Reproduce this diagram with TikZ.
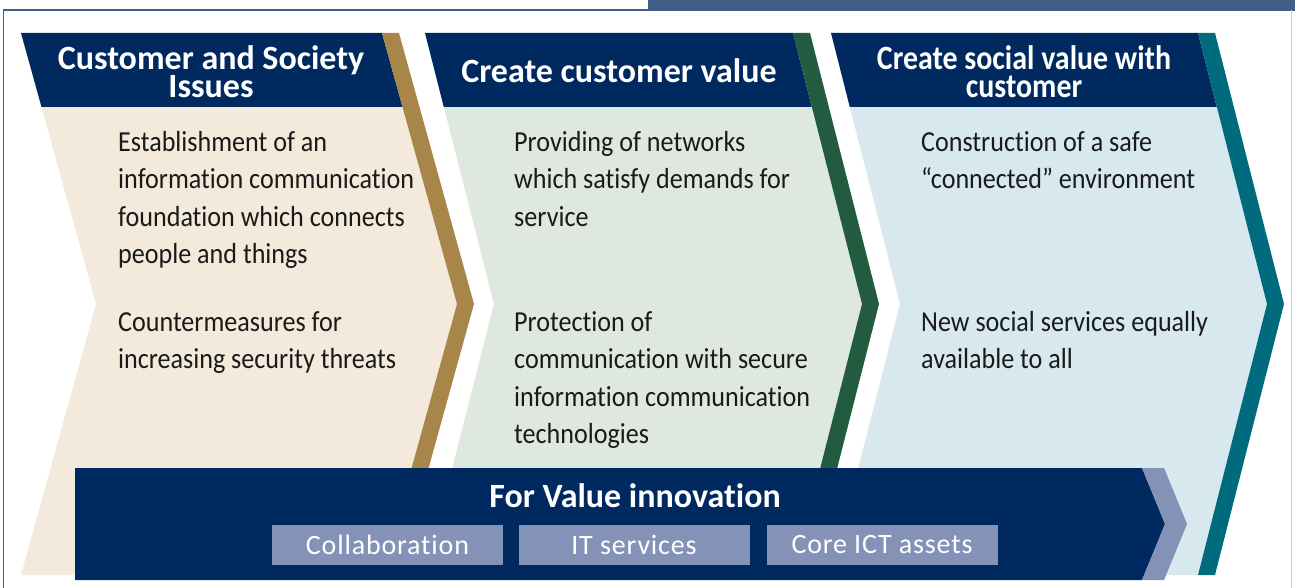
\documentclass[tikz,border=0pt]{standalone}
\usepackage{fontspec}
\setmainfont{Carlito}[FakeStretch=0.9, Ligatures=NoCommon]
\newfontfamily\headfont{Carlito}[Ligatures=NoCommon]
\newfontfamily\narrowhead{Carlito}[FakeStretch=0.88, Ligatures=NoCommon]
\newfontfamily\boxfont{Carlito}[LetterSpace=3, Ligatures=NoCommon]
\definecolor{navy}{HTML}{00295F}
\definecolor{bronze}{HTML}{A8864A}
\definecolor{beige}{HTML}{F3EADC}
\definecolor{pine}{HTML}{225B40}
\definecolor{mint}{HTML}{DEE8DE}
\definecolor{teal}{HTML}{006B7D}
\definecolor{ice}{HTML}{D8E8EF}
\definecolor{lavender}{HTML}{8592B8}
\definecolor{steel}{HTML}{3F5F87}
\definecolor{ink}{HTML}{1A1A1A}
\tikzset{
  headtext/.style={text=white, align=center, inner sep=0pt, font=\headfont\bfseries\fontsize{34}{28}\selectfont},
  bodytext/.style={anchor=north west, inner sep=0pt, align=left, text=ink, font=\fontsize{29}{37.5}\selectfont},
  subbox/.style={fill=lavender, text=white, minimum width=231pt, minimum height=40pt, inner sep=0pt, font=\boxfont\fontsize{28}{28}\selectfont}
}
\begin{document}
\begin{tikzpicture}[x=1pt,y=-1pt]
\useasboundingbox (0,0) rectangle (1295,588);
% frame
\fill[steel] (648,0) rectangle (1295,9);
\draw[steel, line width=1.2pt] (3.5,588) -- (3.5,10) -- (1295,10);
\draw[black!20, line width=1pt] (1291,10) -- (1291,588);
% panel 1
\fill[beige] (21,33) -- (382,33) -- (457,304) -- (382,575) -- (21,575) -- (96,304) -- cycle;
\fill[navy] (21,33) -- (382,33) -- (402.5,107) -- (41.5,107) -- cycle;
\fill[bronze] (382,33) -- (399,33) -- (474,304) -- (399,575) -- (382,575) -- (457,304) -- cycle;
% panel 2
\fill[mint] (425,33) -- (793,33) -- (862,304) -- (793,575) -- (425,575) -- (494,304) -- cycle;
\fill[navy] (425,33) -- (793,33) -- (811.8,107) -- (443.8,107) -- cycle;
\fill[pine] (793,33) -- (810,33) -- (879,304) -- (810,575) -- (793,575) -- (862,304) -- cycle;
% panel 3
\fill[ice] (831,33) -- (1198,33) -- (1267,304) -- (1198,575) -- (831,575) -- (900,304) -- cycle;
\fill[navy] (831,33) -- (1198,33) -- (1216.8,107) -- (849.8,107) -- cycle;
\fill[teal] (1198,33) -- (1215,33) -- (1284,304) -- (1215,575) -- (1198,575) -- (1267,304) -- cycle;
% headers
\node[headtext] (headA) at (211,72) {Customer and Society\\Issues};
\node[headtext] (headB) at (619,71) {Create customer value};
\node[headtext, font=\narrowhead\bfseries\fontsize{34}{28}\selectfont] (headC) at (1024,72) {Create social value with\\customer};
% texts
\node[bodytext] (issueA) at (118,131) {Establishment of an\\information communication\\foundation which connects\\people and things};
\node[bodytext] (issueB) at (118,311) {Countermeasures for\\increasing security threats};
\node[bodytext] (valueA) at (514,131) {Providing of networks\\which satisfy demands for\\service};
\node[bodytext] (valueB) at (514,311) {Protection of\\communication with secure\\information communication\\technologies};
\node[bodytext] (socialA) at (921,131) {Construction of a safe\\“connected” environment};
\node[bodytext] (socialB) at (921,311) {New social services equally\\available to all};
% band
\fill[navy] (75,468) -- (1142,468) -- (1165,524) -- (1142,580) -- (75,580) -- cycle;
\fill[lavender] (1142,468) -- (1164,468) -- (1187,524) -- (1164,580) -- (1142,580) -- (1165,524) -- cycle;
\node[headtext, font=\headfont\bfseries\fontsize{34}{34}\selectfont] (band) at (635,496) {For Value innovation};
\node[subbox] (collab) at (387.5,545) {Collaboration};
\node[subbox] (itserv) at (634,545) {IT services};
\node[subbox] (coreict) at (882,545) {Core ICT assets};
\end{tikzpicture}
\end{document}
